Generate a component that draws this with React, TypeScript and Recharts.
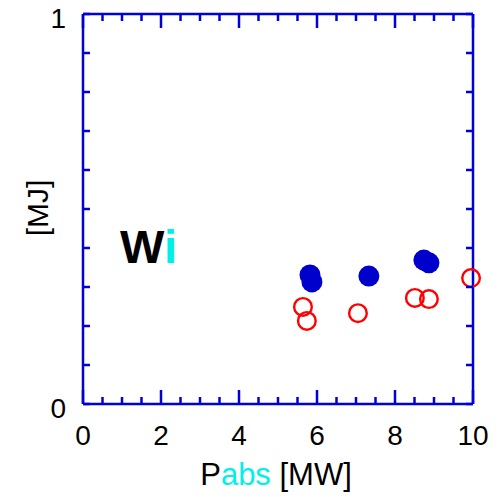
import React from 'react';
import { ScatterChart, Scatter, XAxis, YAxis, Customized } from 'recharts';

const BLUE = '#0000d8';
const DOT_BLUE = '#0000cc';
const RED = '#ff0000';
const CYAN = '#00f0e8';
const FONT = '"Liberation Sans", Arial, sans-serif';

// absorbed power [MW] vs stored energy [MJ]
const filledX = [5.82, 5.87, 7.33, 8.74, 8.87];
const filledY = [0.331, 0.313, 0.328, 0.369, 0.362];
const openX = [5.64, 5.74, 7.05, 8.51, 8.87, 9.95];
const openY = [0.249, 0.213, 0.233, 0.272, 0.269, 0.323];

const xTicks = [0, 0.5, 1, 1.5, 2, 2.5, 3, 3.5, 4, 4.5, 5, 5.5, 6, 6.5, 7, 7.5, 8, 8.5, 9, 9.5, 10];
const xLabels = [0, 2, 4, 6, 8, 10];
const yTicks = [0, 0.1, 0.2, 0.3, 0.4, 0.5, 0.6, 0.7, 0.8, 0.9, 1];
const yLabels = [0, 1];

const filled = filledX.map((x, i) => ({ x, y: filledY[i] }));
const open = openX.map((x, i) => ({ x, y: openY[i] }));

const isMajorX = (v: number) => xLabels.includes(v);

function BottomTick(props: any) {
  const { x, y, payload } = props;
  const v = payload.value;
  const len = isMajorX(v) ? 14 : 7;
  return (
    <g>
      <line x1={x} y1={y} x2={x} y2={y - len} stroke={BLUE} strokeWidth={2.5} />
      {isMajorX(v) && (
        <text x={x} y={y + 41} textAnchor="middle" fontSize={28} fontFamily={FONT} fill="#000">
          {v}
        </text>
      )}
    </g>
  );
}

function TopTick(props: any) {
  const { x, y, payload } = props;
  const len = isMajorX(payload.value) ? 14 : 7;
  return <line x1={x} y1={y} x2={x} y2={y + len} stroke={BLUE} strokeWidth={2.5} />;
}

function LeftTick(props: any) {
  const { x, y, payload } = props;
  const v = payload.value;
  return (
    <g>
      <line x1={x} y1={y} x2={x + 7} y2={y} stroke={BLUE} strokeWidth={2.5} />
      {yLabels.includes(v) && (
        <text x={x - 17} y={y + 14} textAnchor="end" fontSize={28} fontFamily={FONT} fill="#000">
          {v}
        </text>
      )}
    </g>
  );
}

function RightTick(props: any) {
  const { x, y } = props;
  return <line x1={x} y1={y} x2={x - 7} y2={y} stroke={BLUE} strokeWidth={2.5} />;
}

const FilledDot = (p: any) => <circle cx={p.cx} cy={p.cy} r={10.5} fill={DOT_BLUE} />;
const OpenDot = (p: any) => (
  <circle cx={p.cx} cy={p.cy} r={8.8} fill="none" stroke={RED} strokeWidth={2.4} />
);

const Titles = () => (
  <g fontFamily={FONT}>
    <text x={120} y={263} fontSize={47} fontWeight="bold" fill="#000">
      W<tspan fill={CYAN}>i</tspan>
    </text>
    <text
      x={37}
      y={208}
      fontSize={30}
      textAnchor="middle"
      dominantBaseline="central"
      transform="rotate(-90 37 208)"
      fill="#000"
    >
      [MJ]
    </text>
    <text x={276} y={485} fontSize={31} textAnchor="middle" fill="#000">
      P<tspan fill={CYAN}>abs</tspan> [MW]
    </text>
  </g>
);

export default function App() {
  const axisLine = { stroke: BLUE, strokeWidth: 2.5 };
  return (
    <div style={{ position: 'absolute', left: 0, top: 0, background: '#fff' }}>
      <ScatterChart width={504} height={497} margin={{ top: 13, right: 30, left: 23, bottom: 33 }}>
        <XAxis
          xAxisId="b"
          dataKey="x"
          type="number"
          domain={[0, 10]}
          ticks={xTicks}
          interval={0}
          height={60}
          axisLine={axisLine}
          tickLine={false}
          tickSize={0}
          tickMargin={0}
          tick={BottomTick}
        />
        <XAxis
          xAxisId="t"
          dataKey="x"
          orientation="top"
          type="number"
          domain={[0, 10]}
          ticks={xTicks}
          interval={0}
          height={1}
          axisLine={axisLine}
          tickLine={false}
          tickSize={0}
          tickMargin={0}
          tick={TopTick}
        />
        <YAxis
          yAxisId="l"
          dataKey="y"
          type="number"
          domain={[0, 1]}
          ticks={yTicks}
          interval={0}
          width={60}
          axisLine={axisLine}
          tickLine={false}
          tickSize={0}
          tickMargin={0}
          tick={LeftTick}
        />
        <YAxis
          yAxisId="r"
          dataKey="y"
          orientation="right"
          type="number"
          domain={[0, 1]}
          ticks={yTicks}
          interval={0}
          width={1}
          axisLine={axisLine}
          tickLine={false}
          tickSize={0}
          tickMargin={0}
          tick={RightTick}
        />
        <Scatter xAxisId="b" yAxisId="l" data={filled} shape={FilledDot} isAnimationActive={false} />
        {/* same domains as the bottom/left pair, so the frame axes share the scale */}
        <Scatter xAxisId="t" yAxisId="r" data={open} shape={OpenDot} isAnimationActive={false} />
        <Customized component={Titles} />
      </ScatterChart>
    </div>
  );
}
